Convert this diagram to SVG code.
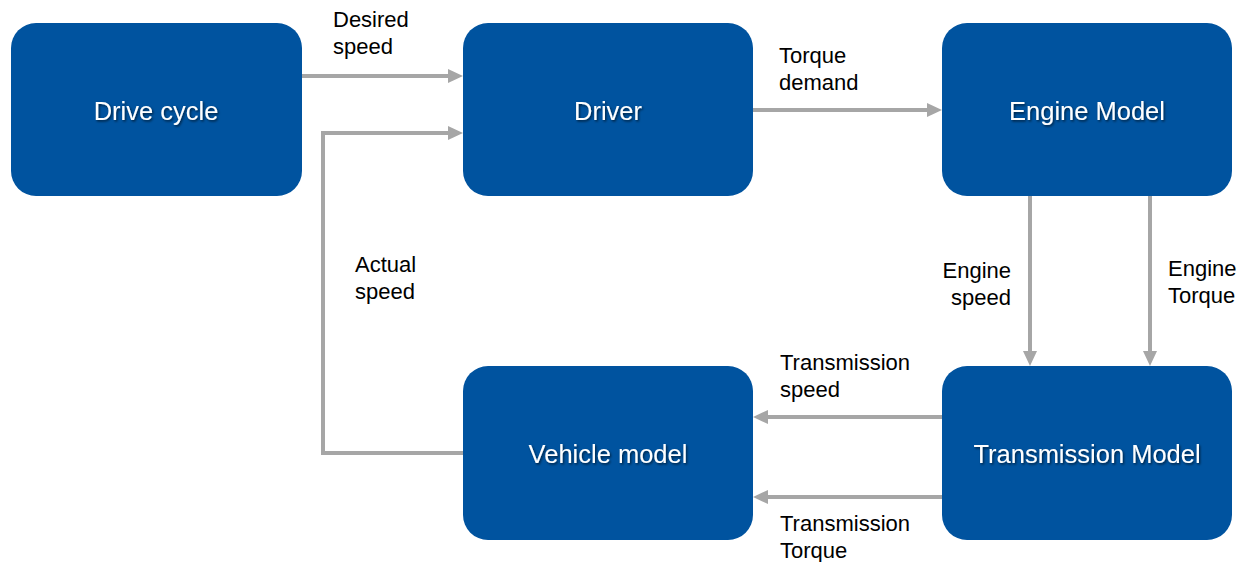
<svg xmlns="http://www.w3.org/2000/svg" width="1247" height="562" viewBox="0 0 1247 562">
<style>
.node{fill:#00539F;}
.nl{font-family:"Liberation Sans",Arial,sans-serif;font-size:25.5px;fill:#fff;text-anchor:middle;filter:url(#sh);}
.lbl{font-family:"Liberation Sans",Arial,sans-serif;font-size:22px;fill:#000;}
.c{fill:none;stroke:#A6A6A6;stroke-width:4;}
.ah{fill:#A6A6A6;}
</style>
<defs>
<filter id="sh" x="-10%" y="-30%" width="120%" height="160%">
<feDropShadow dx="1.2" dy="1.5" stdDeviation="0.8" flood-color="#000" flood-opacity="0.6"/>
</filter>
</defs>
<rect width="1247" height="562" fill="#fff"/>
<g id="connectors">
<path class="c" d="M302,76 H450"/>
<polygon class="ah" points="448,69 463,76 448,83"/>
<path class="c" d="M463,453 H323 V133 H450"/>
<polygon class="ah" points="448,126 463,133 448,140"/>
<path class="c" d="M753,110 H929"/>
<polygon class="ah" points="927,103 942,110 927,117"/>
<path class="c" d="M1030,196 V353"/>
<polygon class="ah" points="1023,351 1030,366 1037,351"/>
<path class="c" d="M1150,196 V353"/>
<polygon class="ah" points="1143,351 1150,366 1157,351"/>
<path class="c" d="M942,417 H766"/>
<polygon class="ah" points="768,410 753,417 768,424"/>
<path class="c" d="M942,497 H766"/>
<polygon class="ah" points="768,490 753,497 768,504"/>
<text class="lbl" x="333" y="27">Desired</text>
<text class="lbl" x="333" y="54">speed</text>
<text class="lbl" x="779" y="63">Torque</text>
<text class="lbl" x="779" y="90">demand</text>
<text class="lbl" x="355" y="272">Actual</text>
<text class="lbl" x="355" y="299">speed</text>
<text class="lbl" x="1011" y="278" text-anchor="end">Engine</text>
<text class="lbl" x="1011" y="305" text-anchor="end">speed</text>
<text class="lbl" x="1168" y="276">Engine</text>
<text class="lbl" x="1168" y="303">Torque</text>
<text class="lbl" x="780" y="370">Transmission</text>
<text class="lbl" x="780" y="397">speed</text>
<text class="lbl" x="780" y="531">Transmission</text>
<text class="lbl" x="780" y="558">Torque</text>
</g>
<g id="drive-cycle"><rect class="node" x="11" y="23" width="291" height="173" rx="25"/><text class="nl" x="156" y="120">Drive cycle</text></g>
<g id="driver"><rect class="node" x="463" y="23" width="290" height="173" rx="25"/><text class="nl" x="608" y="120">Driver</text></g>
<g id="engine-model"><rect class="node" x="942" y="23" width="290" height="173" rx="25"/><text class="nl" x="1087" y="120">Engine Model</text></g>
<g id="vehicle-model"><rect class="node" x="463" y="366" width="290" height="174" rx="25"/><text class="nl" x="608" y="463">Vehicle model</text></g>
<g id="transmission-model"><rect class="node" x="942" y="366" width="290" height="174" rx="25"/><text class="nl" x="1087" y="463">Transmission Model</text></g>
</svg>
